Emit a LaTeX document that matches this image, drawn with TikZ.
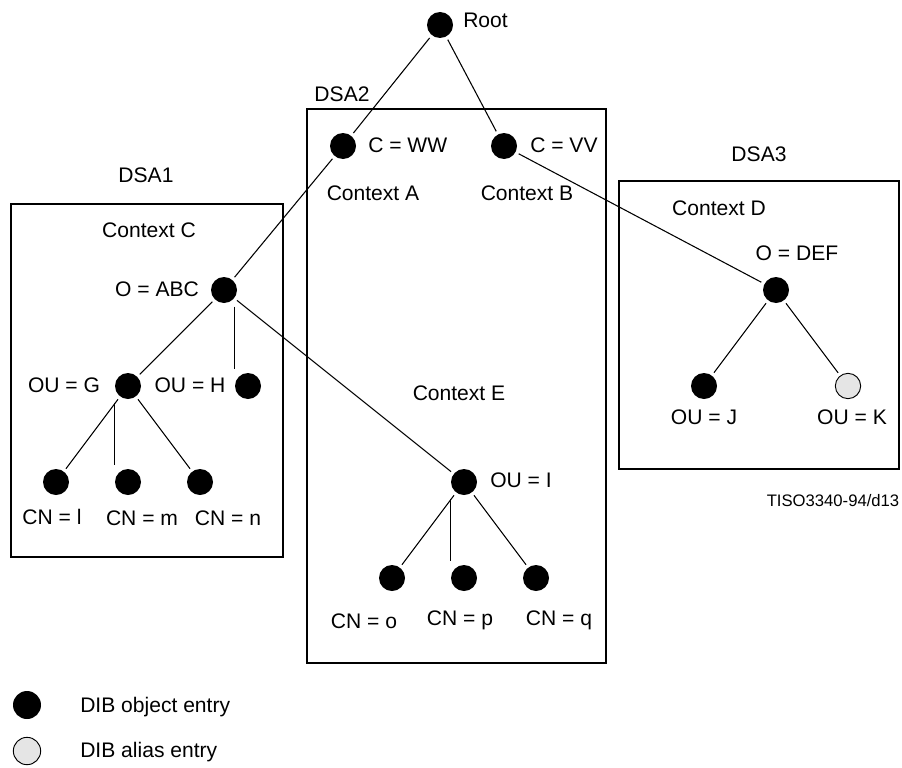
\documentclass[tikz,border=0pt]{standalone}
\usepackage{fontspec}
\setmainfont{Liberation Sans}
\usepackage{tikz}

\definecolor{aliasgray}{gray}{0.9}

\begin{document}
\begin{tikzpicture}[x=0.75pt, y=-0.75pt,
  entry/.style={circle, fill, inner sep=0pt, minimum size=19.5pt},
  alias/.style={circle, draw, line width=0.7pt, fill=aliasgray, inner sep=0pt, minimum size=19pt},
  lbl/.style={inner sep=0pt, text height=11.3pt, text depth=0pt, font=\fontsize{15.8}{19}\selectfont},
  dsa/.style={draw, line width=1.1pt},
  edge/.style={line width=0.8pt, shorten <=2.5pt, shorten >=2.5pt}]
\useasboundingbox (0,0) rectangle (902,767);

% DSA boxes
\draw[dsa] (11,204) rectangle (283,557);
\draw[dsa] (307,109) rectangle (606,663);
\draw[dsa] (619,181) rectangle (899,469);
\node[lbl] (dsa1) at (146,175) {DSA1};
\node[lbl] (dsa2) at (342,94) {DSA2};
\node[lbl] (dsa3) at (759,154) {DSA3};
\node[lbl] (ctxa) at (373,193) {Context A};
\node[lbl] (ctxb) at (527,193) {Context B};
\node[lbl] (ctxc) at (149,230) {Context C};
\node[lbl] (ctxd) at (719,208) {Context D};
\node[lbl] (ctxe) at (459,393) {Context E};

% entries
\node[entry] (root) at (440,25) {};
\node[entry] (ww) at (343,146) {};
\node[entry] (vv) at (504,146) {};
\node[entry] (abc) at (224,290) {};
\node[entry] (g) at (128,386) {};
\node[entry] (h) at (248,386) {};
\node[entry] (l) at (56,482) {};
\node[entry] (m) at (128,482) {};
\node[entry] (n) at (200,482) {};
\node[entry] (i) at (464,482) {};
\node[entry] (o) at (392,578) {};
\node[entry] (p) at (464,578) {};
\node[entry] (q) at (536,578) {};
\node[entry] (def) at (776,290) {};
\node[entry] (j) at (704,386) {};
\node[alias] (k) at (848,386) {};

% names
\node[lbl, anchor=west] (rootname) at (463,20) {Root};
\node[lbl, anchor=west] (wwname) at (368,145) {C = WW};
\node[lbl, anchor=west] (vvname) at (530,145) {C = VV};
\node[lbl] (abcname) at (157,289) {O = ABC};
\node[lbl] (gname) at (64,385) {OU = G};
\node[lbl] (hname) at (190,385) {OU = H};
\node[lbl] (lname) at (52,517) {CN = l};
\node[lbl] (mname) at (142,518) {CN = m};
\node[lbl] (nname) at (228,518) {CN = n};
\node[lbl] (iname) at (521,480) {OU = I};
\node[lbl] (oname) at (364,621) {CN = o};
\node[lbl] (pname) at (460,618) {CN = p};
\node[lbl] (qname) at (559,618) {CN = q};
\node[lbl] (defname) at (797,253) {O = DEF};
\node[lbl] (jname) at (704,417) {OU = J};
\node[lbl] (kname) at (852,417) {OU = K};

% tree
\draw[edge] (root) -- (ww);
\draw[edge] (root) -- (vv);
\draw[edge] (ww) -- (abc);
\draw[edge] (vv) -- (def);
\draw[edge] (abc) -- (g);
\draw[edge] (h.west |- abc.south) -- (h.west |- h.north);
\draw[edge] (abc) -- (i);
\draw[edge] (g) -- (l);
\draw[edge] (m.west |- g.south) -- (m.west |- m.north);
\draw[edge] (g) -- (n);
\draw[edge] (i) -- (o);
\draw[edge] (p.west |- i.south) -- (p.west |- p.north);
\draw[edge] (i) -- (q);
\draw[edge] (def) -- (j);
\draw[edge] (def) -- (k);

\node[inner sep=0pt, font=\fontsize{12.5}{15}\selectfont] (tiso) at (833,501) {TISO3340-94/d13};

% legend
\node[entry, minimum size=21pt] (keyobj) at (27,705) {};
\node[alias, minimum size=20.5pt] (keyalias) at (27,751) {};
\node[lbl, anchor=west] (keyobjtext) at (80,705) {DIB object entry};
\node[lbl, anchor=west] (keyaliastext) at (80,750) {DIB alias entry};
\end{tikzpicture}
\end{document}
